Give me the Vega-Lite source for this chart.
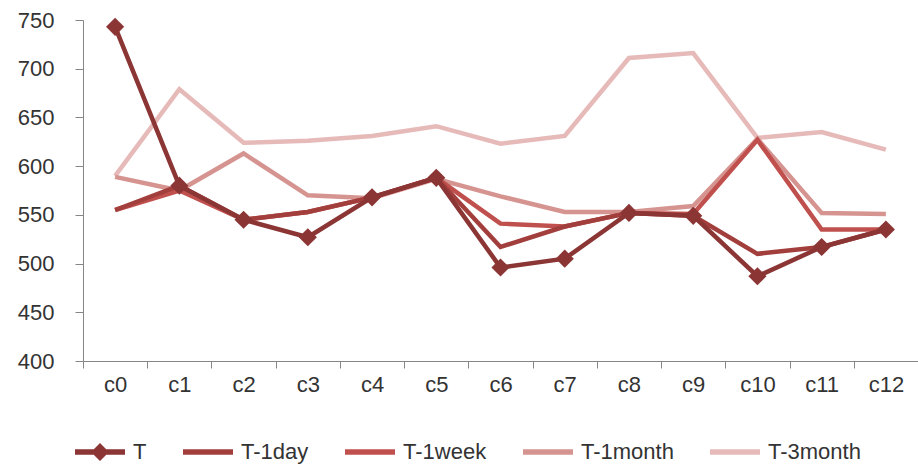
{
  "$schema": "https://vega.github.io/schema/vega-lite/v6.json",
  "width": 835,
  "height": 341,
  "autosize": "none",
  "padding": {"left": 83, "top": 20, "right": 0, "bottom": 103},
  "config": {"view": {"stroke": null}, "font": "Liberation Sans"},
  "data": {
    "values": [
      {"cat": "c0", "series": "T-3month", "value": 590},
      {"cat": "c1", "series": "T-3month", "value": 679},
      {"cat": "c2", "series": "T-3month", "value": 624},
      {"cat": "c3", "series": "T-3month", "value": 626},
      {"cat": "c4", "series": "T-3month", "value": 631},
      {"cat": "c5", "series": "T-3month", "value": 641},
      {"cat": "c6", "series": "T-3month", "value": 623},
      {"cat": "c7", "series": "T-3month", "value": 631},
      {"cat": "c8", "series": "T-3month", "value": 711},
      {"cat": "c9", "series": "T-3month", "value": 716},
      {"cat": "c10", "series": "T-3month", "value": 629},
      {"cat": "c11", "series": "T-3month", "value": 635},
      {"cat": "c12", "series": "T-3month", "value": 617},
      {"cat": "c0", "series": "T-1month", "value": 589},
      {"cat": "c1", "series": "T-1month", "value": 575},
      {"cat": "c2", "series": "T-1month", "value": 613},
      {"cat": "c3", "series": "T-1month", "value": 570},
      {"cat": "c4", "series": "T-1month", "value": 567},
      {"cat": "c5", "series": "T-1month", "value": 587},
      {"cat": "c6", "series": "T-1month", "value": 569},
      {"cat": "c7", "series": "T-1month", "value": 553},
      {"cat": "c8", "series": "T-1month", "value": 553},
      {"cat": "c9", "series": "T-1month", "value": 559},
      {"cat": "c10", "series": "T-1month", "value": 628},
      {"cat": "c11", "series": "T-1month", "value": 552},
      {"cat": "c12", "series": "T-1month", "value": 551},
      {"cat": "c0", "series": "T-1week", "value": 555},
      {"cat": "c1", "series": "T-1week", "value": 575},
      {"cat": "c2", "series": "T-1week", "value": 545},
      {"cat": "c3", "series": "T-1week", "value": 553},
      {"cat": "c4", "series": "T-1week", "value": 568},
      {"cat": "c5", "series": "T-1week", "value": 588},
      {"cat": "c6", "series": "T-1week", "value": 541},
      {"cat": "c7", "series": "T-1week", "value": 538},
      {"cat": "c8", "series": "T-1week", "value": 552},
      {"cat": "c9", "series": "T-1week", "value": 551},
      {"cat": "c10", "series": "T-1week", "value": 627},
      {"cat": "c11", "series": "T-1week", "value": 535},
      {"cat": "c12", "series": "T-1week", "value": 535},
      {"cat": "c0", "series": "T-1day", "value": 555},
      {"cat": "c1", "series": "T-1day", "value": 580},
      {"cat": "c2", "series": "T-1day", "value": 545},
      {"cat": "c3", "series": "T-1day", "value": 553},
      {"cat": "c4", "series": "T-1day", "value": 568},
      {"cat": "c5", "series": "T-1day", "value": 588},
      {"cat": "c6", "series": "T-1day", "value": 517},
      {"cat": "c7", "series": "T-1day", "value": 538},
      {"cat": "c8", "series": "T-1day", "value": 552},
      {"cat": "c9", "series": "T-1day", "value": 549},
      {"cat": "c10", "series": "T-1day", "value": 510},
      {"cat": "c11", "series": "T-1day", "value": 517},
      {"cat": "c12", "series": "T-1day", "value": 535},
      {"cat": "c0", "series": "T", "value": 743},
      {"cat": "c1", "series": "T", "value": 580},
      {"cat": "c2", "series": "T", "value": 545},
      {"cat": "c3", "series": "T", "value": 527},
      {"cat": "c4", "series": "T", "value": 568},
      {"cat": "c5", "series": "T", "value": 588},
      {"cat": "c6", "series": "T", "value": 496},
      {"cat": "c7", "series": "T", "value": 505},
      {"cat": "c8", "series": "T", "value": 552},
      {"cat": "c9", "series": "T", "value": 549},
      {"cat": "c10", "series": "T", "value": 487},
      {"cat": "c11", "series": "T", "value": 517},
      {"cat": "c12", "series": "T", "value": 535}
    ]
  },
  "encoding": {
    "x": {
      "field": "cat",
      "type": "ordinal",
      "sort": ["c0","c1","c2","c3","c4","c5","c6","c7","c8","c9","c10","c11","c12"],
      "scale": {"type": "band", "paddingInner": 0, "paddingOuter": 0},
      "axis": {
        "title": null,
        "labelAngle": 0,
        "tickBand": "extent",
        "tickSize": 7,
        "domainColor": "#868686",
        "tickColor": "#868686",
        "labelFontSize": 22,
        "labelColor": "#333333",
        "labelPadding": 6,
        "grid": false
      }
    },
    "y": {
      "field": "value",
      "type": "quantitative",
      "scale": {"domain": [400, 750], "nice": false, "zero": false},
      "axis": {
        "title": null,
        "values": [400, 450, 500, 550, 600, 650, 700, 750],
        "tickSize": 8,
        "labelPadding": 21,
        "labelFontSize": 22,
        "labelColor": "#333333",
        "domainColor": "#868686",
        "tickColor": "#868686",
        "grid": false
      }
    },
    "color": {
      "field": "series",
      "type": "nominal",
      "scale": {
        "domain": ["T", "T-1day", "T-1week", "T-1month", "T-3month"],
        "range": ["#8B3535", "#A23F3D", "#C0504D", "#D69491", "#E6BAB8"]
      },
      "legend": {
        "orient": "none",
        "legendX": -8,
        "legendY": 407,
        "direction": "horizontal",
        "columns": 5,
        "title": null,
        "padding": 0,
        "columnPadding": 36,
        "symbolSize": 2500,
        "symbolOpacity": 1,
        "symbolStrokeWidth": 0,
        "labelFontSize": 22,
        "labelColor": "#333333",
        "labelOffset": 8
      }
    }
  },
  "layer": [
    {
      "mark": {"type": "line", "strokeWidth": 4.5}
    },
    {
      "transform": [{"filter": "datum.series === 'T'"}],
      "mark": {"type": "point", "shape": "diamond", "filled": true, "size": 330, "opacity": 1}
    },
    {
      "mark": {"type": "point", "filled": true, "opacity": 0},
      "encoding": {
        "shape": {
          "field": "series",
          "type": "nominal",
          "scale": {
            "domain": ["T", "T-1day", "T-1week", "T-1month", "T-3month"],
            "range": [
              "M-1,-0.11L-0.25,-0.11L0,-0.36L0.25,-0.11L1,-0.11L1,0.11L0.25,0.11L0,0.36L-0.25,0.11L-1,0.11Z",
              "M-1,-0.11L1,-0.11L1,0.11L-1,0.11Z",
              "M-1,-0.11L1,-0.11L1,0.11L-1,0.11Z",
              "M-1,-0.11L1,-0.11L1,0.11L-1,0.11Z",
              "M-1,-0.11L1,-0.11L1,0.11L-1,0.11Z"
            ]
          },
          "legend": {
            "orient": "none",
            "legendX": -8,
            "legendY": 407,
            "direction": "horizontal",
            "columns": 5,
            "title": null,
            "padding": 0,
            "columnPadding": 36,
            "symbolSize": 2500,
            "symbolOpacity": 1,
            "symbolStrokeWidth": 0,
            "labelFontSize": 22,
            "labelColor": "#333333",
            "labelOffset": 8
          }
        }
      }
    }
  ]
}
